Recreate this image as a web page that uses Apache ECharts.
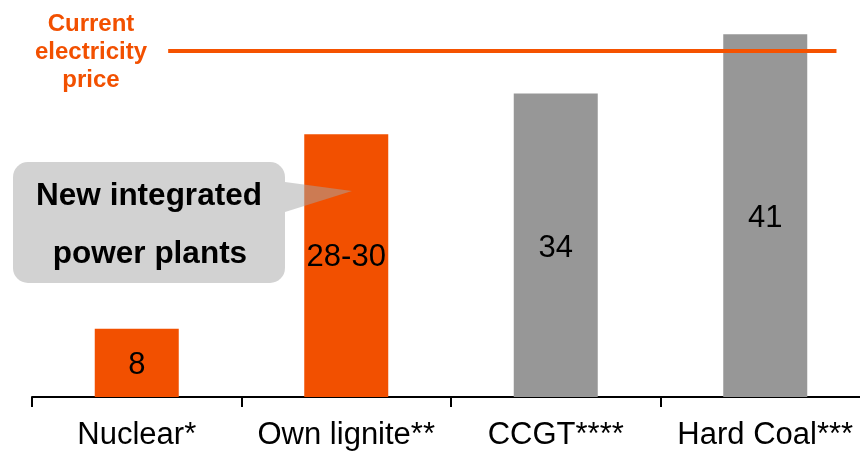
<!DOCTYPE html>
<html>
<head>
<meta charset="utf-8">
<script src="https://cdn.jsdelivr.net/npm/echarts@6/dist/echarts.min.js"></script>
<style>
html,body{margin:0;padding:0;background:#fff;}
#chart{width:860px;height:451px;}
</style>
</head>
<body>
<div id="chart"></div>
<script>
// Data
const categories = ['Nuclear*', 'Own lignite**', 'CCGT****', 'Hard Coal***'];
const costValues = [7.7, 29.7, 34.3, 41.0];          // bar heights
const costLabels = ['8', '28-30', '34', '41'];        // printed labels
const barColors = ['#F25000', '#F25000', '#979797', '#979797'];
const priceValue = 39.1;                              // current electricity price level
const priceSpan = [0.65, 3.84];                       // extent of the price line in category units

const FONT = '"Liberation Sans", Arial, sans-serif';

const chart = echarts.init(document.getElementById('chart'), null, {renderer: 'canvas'});

const option = {
  animation: false,
  backgroundColor: '#ffffff',
  grid: {left: 32, width: 838, top: 7.6, bottom: 54, containLabel: false, outerBoundsMode: 'none'},
  xAxis: [
    {
      type: 'category',
      data: categories,
      axisLine: {show: true, lineStyle: {color: '#000', width: 2}},
      axisTick: {show: true, length: 10, lineStyle: {color: '#000', width: 2}},
      axisLabel: {interval: 0, margin: 23, fontFamily: FONT, fontSize: 31, color: '#000'},
      splitLine: {show: false}
    },
    {
      type: 'value', min: 0, max: 4, show: false, position: 'bottom'
    }
  ],
  yAxis: {
    type: 'value', min: 0, max: 44, show: false, splitLine: {show: false}
  },
  series: [
    {
      type: 'bar',
      xAxisIndex: 0,
      barWidth: 84,
      data: costValues.map((v, i) => ({
        value: v,
        itemStyle: {color: barColors[i]},
        label: {offset: i === 1 ? [0, -8] : [0, 3]}
      })),
      label: {
        show: true,
        position: 'inside',
        fontFamily: FONT,
        fontSize: 31,
        color: '#000',
        formatter: p => costLabels[p.dataIndex]
      },
      z: 2
    },
    {
      type: 'line',
      xAxisIndex: 1,
      data: [[priceSpan[0], priceValue], [priceSpan[1], priceValue]],
      symbol: 'none',
      lineStyle: {color: '#F55200', width: 4},
      z: 3
    }
  ],
  graphic: [
    {
      type: 'text',
      x: 91, y: 52,
      style: {
        text: 'Current\nelectricity\nprice',
        fill: '#F25000',
        font: 'bold 24px ' + FONT,
        lineHeight: 28,
        align: 'center',
        verticalAlign: 'middle'
      },
      z: 10
    },
    {
      type: 'rect',
      shape: {x: 13, y: 162, width: 272, height: 121, r: 15},
      style: {fill: 'rgba(166,166,166,0.5)'},
      z: 10
    },
    {
      type: 'polygon',
      shape: {points: [[285, 182], [352, 191], [285, 212]]},
      style: {fill: 'rgba(166,166,166,0.5)'},
      z: 10
    },
    {
      type: 'text',
      x: 149, y: 196,
      style: {
        text: 'New integrated',
        fill: '#000',
        font: 'bold 31.5px ' + FONT,
        align: 'center',
        verticalAlign: 'middle'
      },
      z: 11
    },
    {
      type: 'text',
      x: 150, y: 254,
      style: {
        text: 'power plants',
        fill: '#000',
        font: 'bold 31.5px ' + FONT,
        align: 'center',
        verticalAlign: 'middle'
      },
      z: 11
    }
  ]
};
chart.setOption(option);
</script>
</body>
</html>
